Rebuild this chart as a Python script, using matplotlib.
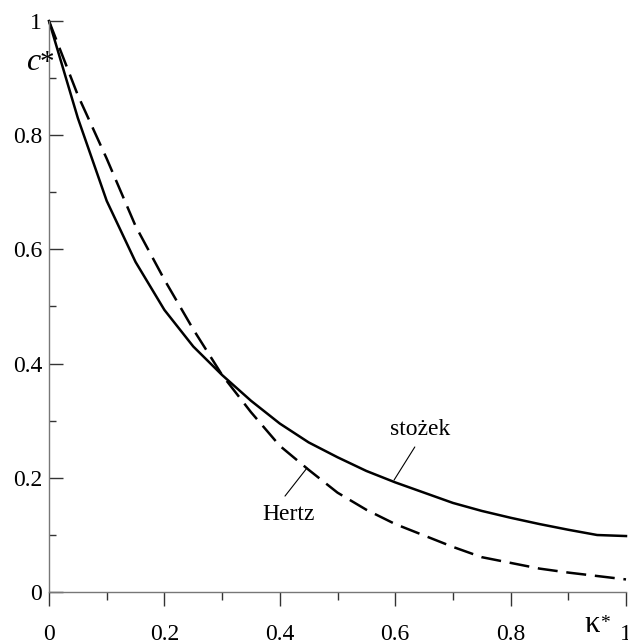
import matplotlib
matplotlib.use("Agg")
import matplotlib.pyplot as plt
from matplotlib.ticker import MultipleLocator

FONT = 'Liberation Serif'
plt.rcParams['font.family'] = FONT

# data
kappa = [0.0, 0.05, 0.1, 0.15, 0.2, 0.25, 0.3, 0.35, 0.4, 0.45, 0.5,
         0.55, 0.6, 0.65, 0.7, 0.75, 0.8, 0.85, 0.9, 0.95, 1.0]
c_stozek = [1.0, 0.83, 0.685, 0.578, 0.494, 0.43, 0.38, 0.335, 0.295, 0.262, 0.236,
            0.212, 0.192, 0.174, 0.156, 0.142, 0.130, 0.119, 0.109, 0.0998, 0.098]
c_hertz = [1.0, 0.87, 0.759, 0.641, 0.547, 0.46, 0.38, 0.315, 0.256, 0.214, 0.174,
           0.144, 0.119, 0.099, 0.079, 0.061, 0.051, 0.041, 0.034, 0.028, 0.022]
x_ticks = [0, 0.2, 0.4, 0.6, 0.8, 1]
x_tick_labels = ['0', '0.2', '0.4', '0.6', '0.8', '1']
y_ticks = [0, 0.2, 0.4, 0.6, 0.8, 1]
y_tick_labels = ['0', '0.2', '0.4', '0.6', '0.8', '1']

fig = plt.figure(figsize=(6.28, 6.44), dpi=100)
ax = fig.add_axes([49/628, 52/644, 577/628, 571/644])

ax.plot(kappa, c_stozek, color='black', lw=1.8, clip_on=False)
ax.plot(kappa, c_hertz, color='black', lw=1.8, dashes=(8, 3.5), clip_on=False)

ax.set_xlim(0, 1)
ax.set_ylim(0, 1)

for s in ['top', 'right']:
    ax.spines[s].set_visible(False)
for s in ['left', 'bottom']:
    ax.spines[s].set_color('#777777')
    ax.spines[s].set_linewidth(1.0)

ax.set_xticks(x_ticks)
ax.set_xticklabels(x_tick_labels, fontfamily=FONT)
ax.set_yticks(y_ticks)
ax.set_yticklabels(y_tick_labels, fontfamily=FONT)
ax.xaxis.set_minor_locator(MultipleLocator(0.1))
ax.yaxis.set_minor_locator(MultipleLocator(0.1))

ax.tick_params(axis='x', which='major', direction='out', length=10, width=1.0,
               color='#333333', labelsize=17, pad=13)
ax.tick_params(axis='x', which='minor', direction='out', length=5.8, width=1.0,
               color='#333333')
ax.tick_params(axis='y', which='major', direction='in', length=10, width=1.0,
               color='#333333', labelsize=17, pad=5)
ax.tick_params(axis='y', which='minor', direction='in', length=5, width=1.0,
               color='#333333')

# axis labels: c* (italic c) and kappa*
ax.text(-0.0156, 0.914, 'c', fontsize=23, fontstyle='italic', fontfamily=FONT,
        ha='right', va='baseline')
ax.text(-0.0156, 0.914, '*', fontsize=21, fontfamily=FONT, ha='left', va='baseline')
ax.text(0.955, -0.07, 'κ', fontsize=22, fontfamily=FONT, ha='right', va='baseline')
ax.text(0.955, -0.063, '*', fontsize=14, fontfamily=FONT, ha='left', va='baseline')

# curve labels with leader lines
ax.text(0.643, 0.275, 'stożek', fontsize=17, ha='center', va='baseline', fontfamily=FONT)
ax.annotate('', xy=(0.598, 0.196), xytext=(0.634, 0.254),
            arrowprops=dict(arrowstyle='-', lw=0.8, color='black',
                            shrinkA=0, shrinkB=0))
ax.text(0.416, 0.126, 'Hertz', fontsize=17, ha='center', va='baseline', fontfamily=FONT)
ax.annotate('', xy=(0.447, 0.217), xytext=(0.409, 0.168),
            arrowprops=dict(arrowstyle='-', lw=0.8, color='black',
                            shrinkA=0, shrinkB=0))

fig.savefig('out.png', dpi=100)
